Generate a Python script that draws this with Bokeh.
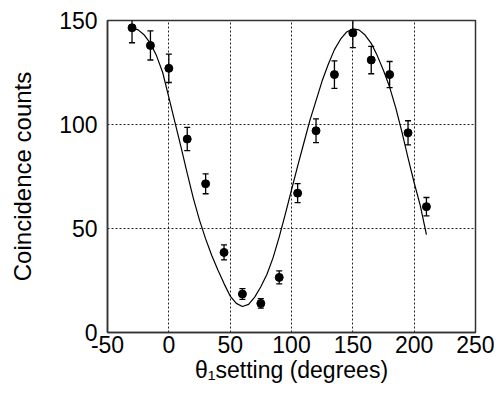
from bokeh.plotting import figure
from bokeh.models import ColumnDataSource, FixedTicker
from bokeh.embed import file_html
from bokeh.resources import INLINE

# measured data (angle in degrees, coincidence counts, error)
theta = [-30, -15, 0, 15, 30, 45, 60, 75, 90, 105, 120, 135, 150, 165, 180, 195, 210]
counts = [146.5, 138, 127, 93, 71.5, 38.5, 18.5, 14, 26.5, 67, 97, 124, 144, 131, 124, 96, 60.5]
errors = [7.2, 7.0, 6.8, 5.6, 4.8, 3.6, 2.6, 2.3, 3.1, 4.6, 5.7, 6.6, 7.0, 6.6, 6.3, 5.8, 4.4]

# fitted curve
curve_theta = [-30, -25, -20, -15, -10, -5, 0, 5, 10, 15, 20, 25, 30, 35, 40, 45, 50, 55, 60,
               65, 70, 75, 80, 85, 90, 95, 100, 105, 110, 115, 120, 125, 130, 135, 140, 145,
               150, 155, 160, 165, 170, 175, 180, 185, 190, 195, 200, 205, 210]
curve_counts = [146.5, 145.5, 143, 139, 133, 125, 113, 101, 89, 76.5, 64.5, 54, 45, 37, 30, 23.5,
                17.5, 14, 12.5, 13.5, 17, 22, 28, 36, 46, 57, 68.5, 80, 91, 102, 111.5, 121,
                129, 136, 141, 144.5, 146, 145.5, 143, 139, 133, 126, 118, 108, 96.5, 84, 72,
                61, 47]

x_ticks = [-50, 0, 50, 100, 150, 200, 250]
x_tick_labels = ["-50", "0", "50", "100", "150", "200", "250"]
y_ticks = [0, 50, 100, 150]

x_title = "θ\u2081setting (degrees)"
y_title = "Coincidence counts"

FONT = "Liberation Sans"

lower = [c - e for c, e in zip(counts, errors)]
upper = [c + e for c, e in zip(counts, errors)]
src = ColumnDataSource(dict(x=theta, y=counts, lo=lower, hi=upper))

p = figure(width=494, height=388, x_range=(-50, 250), y_range=(0, 150),
           output_backend="svg", toolbar_location=None,
           min_border_left=107, min_border_right=19, min_border_top=20, min_border_bottom=56)
p.background_fill_color = "white"
p.border_fill_color = "white"
p.outline_line_color = "#333333"
p.outline_line_width = 1.5

for ax in (p.xaxis[0], p.yaxis[0]):
    ax.major_tick_in = 0
    ax.major_tick_out = 0
    ax.minor_tick_in = 0
    ax.minor_tick_out = 0
    ax.axis_line_color = "#333333"
    ax.axis_line_width = 1.5
    ax.major_label_text_font = FONT
    ax.major_label_text_font_size = "23px"
    ax.major_label_text_color = "black"
    ax.axis_label_text_font = FONT
    ax.axis_label_text_font_style = "normal"
    ax.axis_label_text_color = "black"

p.xaxis.ticker = FixedTicker(ticks=x_ticks)
p.xaxis.major_label_overrides = {t: s for t, s in zip(x_ticks, x_tick_labels)}
p.yaxis.ticker = FixedTicker(ticks=y_ticks)
p.xaxis.major_label_standoff = 3
p.yaxis.major_label_standoff = 10

p.yaxis.axis_label = y_title
p.yaxis.axis_label_text_font_size = "24px"
p.yaxis.axis_label_standoff = 20

p.xaxis.axis_label = x_title
p.xaxis.axis_label_text_font_size = "23px"
p.xaxis.axis_label_standoff = 1

for g in (p.xgrid[0], p.ygrid[0]):
    g.grid_line_color = "#222222"
    g.grid_line_dash = "2 2"
    g.grid_line_width = 1

# fitted curve
p.line(curve_theta, curve_counts, line_color="black", line_width=1.2)

# error bars
p.segment(x0="x", y0="lo", x1="x", y1="hi", source=src, line_color="black", line_width=1.3)
p.scatter(x="x", y="lo", source=src, marker="dash", size=6, line_color="black", line_width=1.3)
p.scatter(x="x", y="hi", source=src, marker="dash", size=6, line_color="black", line_width=1.3)

# points
p.scatter(x="x", y="y", source=src, marker="circle", size=8, fill_color="black", line_color="black")

open("out.html", "w").write(file_html(p, INLINE))
